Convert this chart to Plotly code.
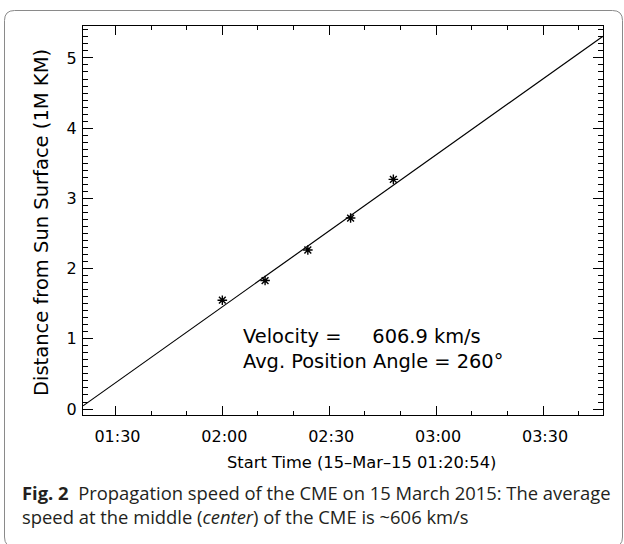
import plotly.graph_objects as go

# ---- data ----
point_times = ["2015-03-15 02:00:00", "2015-03-15 02:12:00", "2015-03-15 02:24:00",
               "2015-03-15 02:36:00", "2015-03-15 02:48:00"]
point_dist = [1.55, 1.83, 2.265, 2.72, 3.27]

fit_times = ["2015-03-15 01:20:54", "2015-03-15 03:46:50"]
fit_dist = [0.045, 5.31]

x_range = ["2015-03-15 01:20:54", "2015-03-15 03:46:50"]
x_tickvals = ["2015-03-15 01:30:00", "2015-03-15 02:00:00", "2015-03-15 02:30:00",
              "2015-03-15 03:00:00", "2015-03-15 03:30:00"]
x_ticktext = ["01:30", "02:00", "02:30", "03:00", "03:30"]
y_range = [-0.085, 5.455]

x_title = "Start Time (15\u2013Mar\u201315 01:20:54)"
y_title = "Distance from Sun Surface (1M KM)"
velocity_text = "Velocity =\u00a0\u00a0\u00a0\u00a0\u00a0606.9 km/s"
angle_text = "Avg. Position Angle = 260\u00b0"
caption_lines = ["<b>Fig. 2</b>\u00a0 Propagation speed of the CME on 15 March 2015: The average",
                 "speed at the middle (<i>center</i>) of the CME is ~606 km/s"]

# ---- layout geometry (pixels) ----
W, H = 624, 544
L, R, T, B = 83, 603, 26, 415


def px(X):
    return (X - L) / (R - L)


def py(Y):
    return (B - Y) / (B - T)


FONT = "DejaVu Sans"

fig = go.Figure()
fig.add_trace(go.Scatter(x=fit_times, y=fit_dist, mode="lines",
                         line=dict(color="black", width=1.2), hoverinfo="skip",
                         showlegend=False))
fig.add_trace(go.Scatter(x=point_times, y=point_dist, mode="markers",
                         marker=dict(symbol="asterisk", size=8, color="black",
                                     line=dict(color="black", width=1.4)),
                         showlegend=False))

axis_common = dict(showgrid=False, zeroline=False, showline=True, linecolor="black",
                   linewidth=1, ticks="inside", mirror="ticks", tickcolor="black",
                   tickwidth=1, tickfont=dict(family=FONT, size=16, color="black"))

fig.update_xaxes(type="date", range=x_range, tickvals=x_tickvals, ticktext=x_ticktext,
                 ticklen=9, ticklabelstandoff=7, ticklabelshift=2,
                 minor=dict(dtick=600000, ticks="inside", ticklen=4, tickcolor="black",
                            tickwidth=1, showgrid=False),
                 **axis_common)
fig.update_yaxes(range=y_range, tick0=0, dtick=1, ticklen=10, ticklabelstandoff=2,
                 minor=dict(dtick=0.1, tick0=0, ticks="inside", ticklen=5, tickcolor="black",
                            tickwidth=1, showgrid=False),
                 **axis_common)

annotations = [
    dict(x=px(41), y=py(223), xref="paper", yref="paper", text=y_title, showarrow=False,
         textangle=-90, xanchor="center", yanchor="middle",
         font=dict(family=FONT, size=19.5, color="black")),
    dict(x=px(361), y=py(462), xref="paper", yref="paper", text=x_title, showarrow=False,
         xanchor="center", yanchor="middle", font=dict(family=FONT, size=16.3, color="black")),
    dict(x=px(241), y=py(336), xref="paper", yref="paper", text=velocity_text, showarrow=False,
         xanchor="left", yanchor="middle", font=dict(family=FONT, size=19.4, color="black")),
    dict(x=px(241), y=py(361), xref="paper", yref="paper", text=angle_text, showarrow=False,
         xanchor="left", yanchor="middle", font=dict(family=FONT, size=19.4, color="black")),
    dict(x=px(20), y=py(504), xref="paper", yref="paper", text="<br>".join(caption_lines),
         showarrow=False, align="left", xanchor="left", yanchor="middle",
         font=dict(family="Open Sans", size=18.4, color="#231f20")),
]

# rounded outer frame
x0, x1, y0, y1, r = 4.5, 622.5, 10.5, 547, 10
path = (f"M {px(x0)},{py(y0 + r)} Q {px(x0)},{py(y0)} {px(x0 + r)},{py(y0)} "
        f"L {px(x1 - r)},{py(y0)} Q {px(x1)},{py(y0)} {px(x1)},{py(y0 + r)} "
        f"L {px(x1)},{py(y1 - r)} Q {px(x1)},{py(y1)} {px(x1 - r)},{py(y1)} "
        f"L {px(x0 + r)},{py(y1)} Q {px(x0)},{py(y1)} {px(x0)},{py(y1 - r)} Z")

fig.update_layout(
    width=W, height=H,
    margin=dict(l=L, r=W - R, t=T, b=H - B),
    paper_bgcolor="white", plot_bgcolor="white",
    annotations=annotations,
    shapes=[dict(type="path", path=path, xref="paper", yref="paper",
                 line=dict(color="#8a8a8a", width=1), layer="below")],
)

fig.write_html("out.html")
